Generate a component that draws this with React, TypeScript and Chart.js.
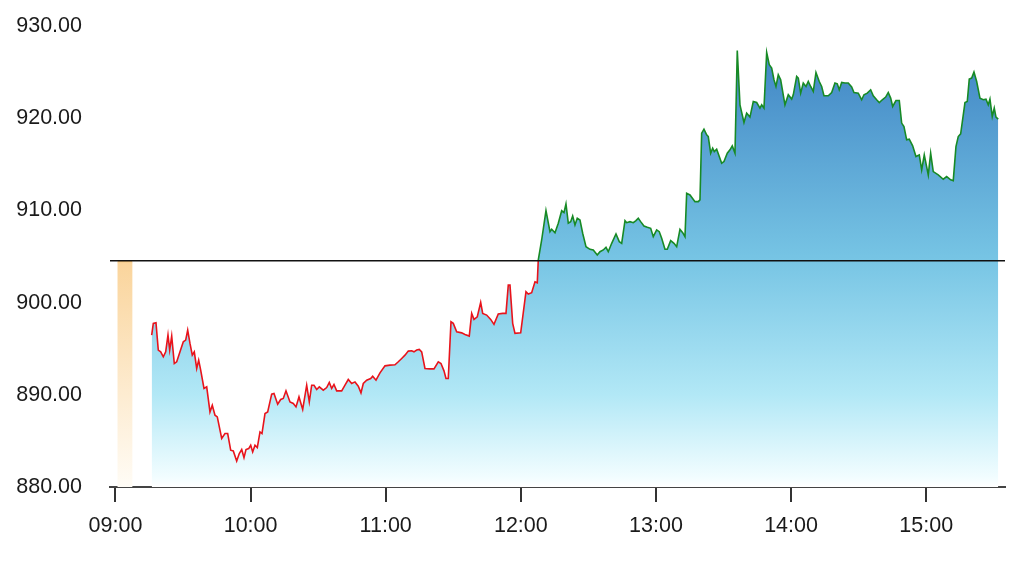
import { useEffect, useRef } from 'react';
import { Chart, registerables } from 'chart.js';

Chart.register(...registerables);

// ---- data ----
const TIME_TICKS = [0, 60, 120, 180, 240, 300, 360]; // minutes after 09:00
const PRICE_TICKS = [880, 890, 900, 910, 920, 930];
const REFERENCE_PRICE = 904.55;
const PREOPEN_MINUTE = 4.2;
const PREOPEN_PRICE = 904.55;

const minutes = [
  16.07, 16.79, 17.98, 19.0, 20.07, 21.23, 22.29, 23.31, 24.07, 24.96,
  26.11, 27.18, 28.64, 30.11, 31.17, 32.06, 33.08, 34.1, 34.99, 36.06,
  36.94, 37.83, 39.3, 40.5, 41.96, 42.98, 44.18, 45.2, 47.16, 48.62,
  49.82, 51.15, 52.31, 53.82, 54.97, 56.04, 57.06, 57.95, 59.15, 60.04,
  60.92, 61.95, 62.97, 64.17, 65.05, 66.39, 67.58, 69.36, 70.38, 72.02,
  73.36, 74.51, 75.71, 77.49, 78.95, 80.15, 81.48, 83.13, 84.9, 86.06,
  87.12, 88.14, 89.34, 90.5, 92.27, 93.78, 94.94, 96.0, 97.02, 98.22,
  100.44, 101.91, 103.37, 104.88, 106.35, 107.82, 109.01, 110.04, 111.55, 113.32,
  114.21, 115.68, 117.45, 119.67, 121.89, 124.11, 125.58, 127.09, 128.55, 130.02,
  131.53, 132.55, 133.75, 134.9, 135.97, 137.43, 139.65, 141.43, 143.34, 144.54,
  145.87, 146.76, 147.78, 148.98, 150.0, 151.51, 153.73, 155.2, 157.1, 158.17,
  159.19, 160.66, 162.17, 163.06, 164.83, 166.61, 168.07, 169.98, 171.94, 173.4,
  174.42, 175.18, 176.38, 177.4, 179.93, 182.28, 183.3, 184.81, 186.28, 187.3,
  187.74, 189.25, 191.16, 192.94, 193.69, 195.16, 196.63, 198.14, 199.16, 200.04,
  201.07, 202.13, 203.02, 204.04, 205.06, 206.26, 207.46, 208.93, 210.7, 212.17,
  213.94, 215.14, 216.61, 217.81, 218.83, 220.34, 222.25, 223.71, 224.78, 226.25,
  227.0, 228.46, 229.93, 231.13, 232.15, 233.21, 234.68, 236.15, 237.66, 238.81,
  240.32, 241.47, 242.54, 244.0, 245.03, 246.54, 248.0, 249.2, 250.67, 251.87,
  252.89, 253.64, 255.11, 257.33, 258.79, 259.55, 260.3, 261.32, 262.52, 263.23,
  264.3, 265.19, 265.9, 266.96, 268.12, 269.18, 270.2, 271.67, 272.87, 273.89,
  275.09, 276.11, 277.31, 279.09, 280.28, 281.75, 283.22, 284.73, 286.19, 286.95,
  287.97, 289.17, 290.32, 291.39, 292.41, 293.29, 294.32, 295.38, 297.29, 298.76,
  300.27, 300.98, 302.49, 303.2, 304.26, 305.42, 306.62, 307.64, 308.7, 309.86,
  311.06, 312.52, 313.59, 314.61, 316.52, 318.03, 319.49, 320.52, 321.4, 322.47,
  323.93, 325.4, 326.91, 327.93, 329.84, 331.35, 332.37, 333.84, 335.35, 336.5,
  338.01, 339.17, 340.5, 342.01, 343.16, 344.23, 345.12, 346.58, 348.05, 349.11,
  350.13, 351.33, 352.49, 354.0, 355.46, 356.93, 358.0, 359.15, 360.93, 361.99,
  363.14, 365.36, 367.58, 369.09, 370.87, 372.02, 373.22, 374.24, 375.31, 377.22,
  378.24, 379.13, 380.2, 381.22, 382.42, 383.88, 385.35, 386.55, 387.57, 388.32,
  389.34, 390.23, 390.99, 392.0,
];

const prices = [
  896.48, 897.75, 897.81, 894.85, 894.66, 894.12, 894.66, 896.48, 894.85, 896.37,
  893.4, 893.58, 894.66, 895.75, 895.93, 897.02, 895.57, 894.3, 894.66, 892.86,
  893.76, 892.67, 890.69, 890.86, 888.14, 888.87, 887.79, 887.6, 885.26, 885.8,
  885.8, 883.99, 883.91, 882.82, 883.63, 884.06, 883.19, 884.06, 884.17, 884.53,
  883.8, 884.53, 884.28, 885.97, 885.8, 887.97, 888.14, 890.07, 890.14, 888.98,
  889.49, 889.6, 890.43, 889.23, 889.06, 888.69, 889.77, 888.41, 891.04, 889.23,
  891.04, 891.04, 890.58, 890.86, 890.5, 890.79, 891.34, 890.69, 891.12, 890.43,
  890.43, 891.04, 891.66, 891.23, 891.4, 890.94, 890.21, 891.23, 891.59, 891.77,
  892.02, 891.59, 892.38, 893.14, 893.22, 893.25, 893.58, 893.94, 894.3, 894.74,
  894.77, 894.66, 894.85, 894.92, 894.66, 892.86, 892.81, 892.81, 893.58, 893.4,
  892.6, 891.77, 891.77, 897.92, 897.75, 896.83, 896.72, 896.55, 896.37, 898.83,
  898.18, 898.46, 900.03, 898.83, 898.65, 898.18, 897.64, 898.76, 898.83, 898.83,
  901.9, 901.9, 897.75, 896.66, 896.72, 901.18, 900.93, 901.07, 902.26, 902.15,
  904.62, 906.79, 909.97, 907.69, 907.95, 907.58, 908.61, 909.97, 909.76, 910.7,
  908.61, 908.78, 909.4, 908.42, 909.15, 908.96, 907.52, 906.06, 905.78, 905.71,
  905.16, 905.52, 905.71, 906.0, 905.52, 906.43, 907.44, 906.61, 906.43, 908.89,
  908.67, 908.78, 908.67, 908.89, 909.15, 908.78, 908.31, 908.17, 908.06, 907.15,
  907.88, 907.69, 906.98, 905.78, 905.78, 906.72, 906.43, 906.06, 907.95, 907.58,
  907.15, 911.86, 911.68, 910.95, 910.95, 911.14, 918.38, 918.81, 918.2, 918.01,
  916.21, 916.75, 916.38, 916.64, 915.84, 915.12, 915.3, 916.21, 916.57, 917.0,
  916.21, 927.35, 921.45, 919.53, 920.55, 920.12, 921.81, 921.7, 921.09, 921.45,
  921.09, 927.13, 925.8, 925.44, 924.17, 923.44, 924.71, 924.17, 921.45, 922.54,
  922.07, 922.54, 924.53, 924.35, 922.72, 923.81, 923.44, 923.98, 923.44, 922.9,
  924.96, 923.98, 923.44, 922.43, 922.43, 922.79, 923.81, 923.73, 923.08, 923.87,
  923.81, 923.81, 923.38, 922.79, 922.72, 922.0, 922.54, 922.72, 923.08, 922.43,
  922.0, 921.7, 922.0, 922.29, 922.79, 922.18, 921.27, 921.92, 921.92, 919.47,
  919.1, 917.65, 917.73, 917.0, 915.84, 916.02, 914.39, 916.02, 913.85, 916.21,
  914.21, 913.85, 913.38, 913.67, 913.31, 913.23, 916.92, 918.01, 918.3, 921.7,
  921.81, 924.24, 924.35, 925.0, 923.98, 922.18, 922.0, 922.07, 921.45, 922.07,
  920.18, 921.09, 920.12, 919.9,
];

// ---- styling ----
const X_MIN = -2.44;
const X_MAX = 395.0;
const Y_MIN = 880;
const Y_MAX = 930;
const GREEN = '#178a25';
const RED = '#e8131b';
const FONT = { family: '"Liberation Sans", Arial, sans-serif', size: 21.5 };
const TEXT = '#1a1a1a';

const fmtTime = (v: number) => {
  const total = Math.round(v) + 9 * 60;
  const h = Math.floor(total / 60);
  const m = total % 60;
  return `${String(h).padStart(2, '0')}:${String(m).padStart(2, '0')}`;
};

export default function App() {
  const ref = useRef<HTMLCanvasElement | null>(null);

  useEffect(() => {
    if (!ref.current) return;

    const lineColor = (ctx: any) => {
      const chart = ctx.chart;
      const area = chart.chartArea;
      if (!area) return RED;
      const yPix = chart.scales.y.getPixelForValue(REFERENCE_PRICE);
      const f = Math.min(1, Math.max(0, (yPix - area.top) / (area.bottom - area.top)));
      const g = chart.ctx.createLinearGradient(0, area.top, 0, area.bottom);
      g.addColorStop(0, GREEN);
      g.addColorStop(f, GREEN);
      g.addColorStop(f, RED);
      g.addColorStop(1, RED);
      return g;
    };

    const areaFill = (ctx: any) => {
      const chart = ctx.chart;
      const area = chart.chartArea;
      if (!area) return 'rgba(120,200,230,0.6)';
      const g = chart.ctx.createLinearGradient(0, area.top, 0, area.bottom);
      g.addColorStop(0, 'rgb(62,130,196)');
      g.addColorStop(0.1, 'rgb(70,140,200)');
      g.addColorStop(0.5, 'rgb(118,196,228)');
      g.addColorStop(0.8, 'rgb(178,232,246)');
      g.addColorStop(0.98, 'rgb(242,253,255)');
      g.addColorStop(1, 'rgb(255,255,255)');
      return g;
    };

    const barFill = (ctx: any) => {
      const chart = ctx.chart;
      const area = chart.chartArea;
      if (!area) return 'rgb(250,215,160)';
      const top = chart.scales.y.getPixelForValue(PREOPEN_PRICE);
      const g = chart.ctx.createLinearGradient(0, top, 0, area.bottom);
      g.addColorStop(0, 'rgb(250,212,155)');
      g.addColorStop(1, 'rgb(255,252,246)');
      return g;
    };

    const chart = new Chart(ref.current, {
      type: 'line',
      data: {
        datasets: [
          {
            type: 'line',
            label: 'reference',
            data: [
              { x: X_MIN, y: REFERENCE_PRICE },
              { x: X_MAX, y: REFERENCE_PRICE },
            ],
            borderColor: '#111111',
            borderWidth: 1.5,
            pointRadius: 0,
            fill: false,
            order: 0,
          },
          {
            type: 'line',
            label: 'price',
            data: minutes.map((m, i) => ({ x: m, y: prices[i] })),
            borderColor: lineColor,
            backgroundColor: areaFill,
            borderWidth: 1.6,
            pointRadius: 0,
            tension: 0,
            fill: 'start',
            order: 1,
          },
          {
            type: 'bar',
            label: 'pre-open',
            data: [{ x: PREOPEN_MINUTE, y: [Y_MIN, PREOPEN_PRICE] }] as any,
            backgroundColor: barFill,
            borderColor: 'rgb(246,196,120)',
            borderWidth: { top: 2, left: 0, right: 0, bottom: 0 },
            borderSkipped: false,
            barThickness: 15,
            order: 2,
          } as any,
        ],
      },
      options: {
        animation: false,
        responsive: false,
        maintainAspectRatio: false,
        layout: { padding: { top: 26, right: 19, left: 0, bottom: 0 } },
        plugins: { legend: { display: false }, tooltip: { enabled: false } },
        scales: {
          x: {
            type: 'linear',
            min: X_MIN,
            max: X_MAX,
            offset: false,
            afterBuildTicks: (s: any) => {
              s.ticks = TIME_TICKS.map((v) => ({ value: v }));
            },
            afterFit: (s: any) => {
              s.height = 76;
            },
            grid: {
              offset: false,
              drawOnChartArea: false,
              drawTicks: true,
              tickLength: 15,
              color: '#333333',
              lineWidth: 2,
            },
            border: { display: true, color: '#444444', width: 2 },
            ticks: {
              font: FONT,
              color: TEXT,
              padding: 11,
              maxRotation: 0,
              autoSkip: false,
              callback: (v: any) => fmtTime(Number(v)),
            },
          },
          y: {
            type: 'linear',
            min: Y_MIN,
            max: Y_MAX,
            afterBuildTicks: (s: any) => {
              s.ticks = PRICE_TICKS.map((v) => ({ value: v }));
            },
            afterFit: (s: any) => {
              s.width = 110;
            },
            grid: { display: false, drawTicks: true, tickLength: 28 },
            border: { display: false },
            ticks: {
              font: FONT,
              color: TEXT,
              padding: 0,
              callback: (v: any) => Number(v).toFixed(2),
            },
          },
        },
      },
    });

    return () => chart.destroy();
  }, []);

  return (
    <canvas
      ref={ref}
      width={1024}
      height={563}
      style={{ position: 'absolute', left: 0, top: 0, width: 1024, height: 563 }}
    />
  );
}
